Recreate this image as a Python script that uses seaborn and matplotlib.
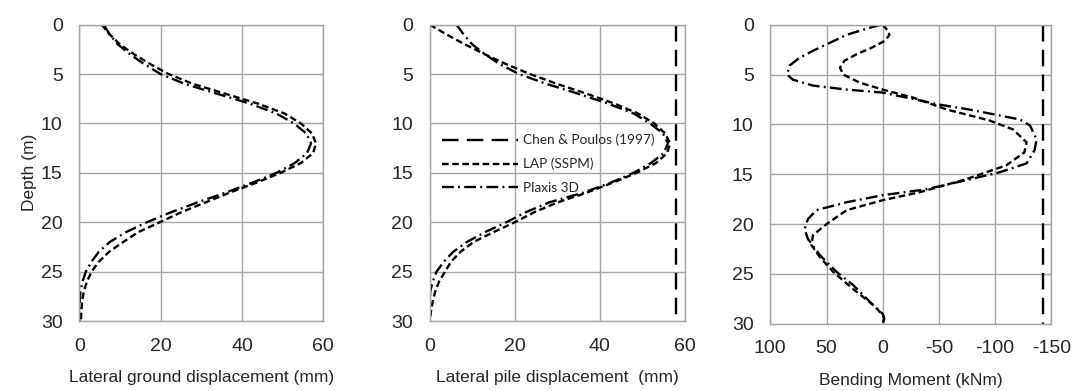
import matplotlib
matplotlib.use("Agg")
import matplotlib.pyplot as plt
import seaborn as sns

sns.set_style("white")
plt.rcParams['font.family'] = ['Liberation Sans', 'DejaVu Sans']
plt.rcParams['axes.unicode_minus'] = False

# depth (m) for the displacement curves
depth = list(range(31))

# lateral ground displacement (mm)
ground_lap = [5.5, 7.5, 10, 13.5, 17.5, 22, 28, 36, 44, 50.5, 54.5, 57.2, 58.2, 57.5, 54.5, 49.5,
              43.5, 37, 31, 25, 19.8, 14.5, 10.8, 7.3, 4.8, 3.0, 1.9, 1.1, 0.7, 0.5, 0.4]
ground_plaxis = [6, 7.5, 9.5, 12.5, 16, 20, 26, 34, 42, 48.5, 52.8, 55.8, 57, 56, 53, 48.5,
                 42.5, 36, 29, 22.5, 16.6, 11.5, 7.5, 4.8, 3, 1.6, 0.8, 0.3, 0.1, 0, 0]

# lateral pile displacement (mm)
pile_lap = [0, 4, 8.3, 13, 18, 23.6, 30, 37, 43.5, 49, 52.8, 55.3, 56.5, 55.8, 53.2, 48.6,
            43, 36.9, 30, 24.5, 20, 15, 10.3, 7.2, 5, 3.6, 2.2, 1.3, 0.7, 0.3, 0]
pile_plaxis = [6.3, 8, 10, 13, 16.5, 21, 27.5, 35, 42, 48, 51.8, 54.8, 56, 55, 52, 47.9,
               42.5, 36.1, 28, 22.5, 18, 13, 8.7, 5.5, 3.3, 1.6, 0.7, 0.1, 0, 0, 0]
chen_pile = 58

# bending moment (kNm)
moment_lap_depth = [0, 0.5, 1.0, 1.6, 2.3, 3.0, 3.6, 4.3, 5.0, 5.8, 6.5, 7.3, 8.5, 9.6, 10.5,
                    11.8, 12.8, 14.1, 15.5, 16.8, 17.6, 18.6, 20.0, 21.1, 22.1, 23.3, 24.8,
                    26.5, 28.1, 29.1, 29.5, 30]
moment_lap = [0, -4, -6, -2, 10, 24, 34, 38, 35, 20.5, 0, -27, -57, -95, -116,
              -128, -126, -110, -74, -33, 0, 32, 50, 62, 63.5, 56, 44,
              26.5, 8.7, 0, -1.3, 0]
moment_plaxis_depth = [0, 0.4, 1.0, 1.8, 2.6, 3.3, 4.1, 5.0, 5.5, 6.1, 6.5, 6.8, 7.3, 8.0, 8.5,
                       9.5, 10.1, 11.5, 12.6, 13.9, 14.8, 15.6, 16.5, 17.1, 17.8, 18.6, 19.5,
                       20.5, 21.5, 23.1, 24.8, 26.1, 28.1, 29.0, 29.5, 30]
moment_plaxis = [2, 14.6, 32, 47, 62, 74, 83, 85, 80, 62, 32, 0, -21, -50, -77,
                 -122, -131, -137, -135, -128, -104, -74, -39, 0, 32, 59, 66.5,
                 69.5, 66.5, 56, 41, 26.5, 8.7, 0, -1.3, 0]
chen_moment = -143

names = ['Chen & Poulos (1997)', 'LAP (SSPM)', 'Plaxis 3D']
ls_chen = (0, (7, 3.5))
ls_lap = (0, (2.8, 1.5))
ls_plaxis = (0, (5, 1.8, 0.8, 1.8))
lw = 1.7
grey = '#a6a6a6'

fig = plt.figure(figsize=(10.73, 3.91), dpi=100)
ax1 = fig.add_axes([0.0739, 0.179, 0.2274, 0.7578])
ax2 = fig.add_axes([0.4005, 0.179, 0.2379, 0.7578])
ax3 = fig.add_axes([0.7179, 0.172, 0.2619, 0.7645])

sns.lineplot(x=ground_lap, y=depth, orient='y', sort=False, estimator=None, ax=ax1,
             color='black', lw=lw, linestyle=ls_lap)
sns.lineplot(x=ground_plaxis, y=depth, orient='y', sort=False, estimator=None, ax=ax1,
             color='black', lw=lw, linestyle=ls_plaxis)

sns.lineplot(x=[chen_pile, chen_pile], y=[0, 30], orient='y', sort=False, estimator=None, ax=ax2,
             color='black', lw=lw, linestyle=ls_chen, label=names[0])
sns.lineplot(x=pile_lap, y=depth, orient='y', sort=False, estimator=None, ax=ax2,
             color='black', lw=lw, linestyle=ls_lap, label=names[1])
sns.lineplot(x=pile_plaxis, y=depth, orient='y', sort=False, estimator=None, ax=ax2,
             color='black', lw=lw, linestyle=ls_plaxis, label=names[2])

sns.lineplot(x=[chen_moment, chen_moment], y=[0, 30], orient='y', sort=False, estimator=None, ax=ax3,
             color='black', lw=lw, linestyle=ls_chen)
sns.lineplot(x=moment_lap, y=moment_lap_depth, orient='y', sort=False, estimator=None, ax=ax3,
             color='black', lw=lw, linestyle=ls_lap)
sns.lineplot(x=moment_plaxis, y=moment_plaxis_depth, orient='y', sort=False, estimator=None, ax=ax3,
             color='black', lw=lw, linestyle=ls_plaxis)

xlabels = ['Lateral ground displacement (mm)', 'Lateral pile displacement  (mm)',
           'Bending Moment (kNm)']
for ax, xl in zip([ax1, ax2, ax3], xlabels):
    ax.set_ylim(30, 0)
    ax.set_yticks(range(0, 31, 5))
    ax.grid(True, color=grey, lw=1)
    ax.set_axisbelow(True)
    for s in ax.spines.values():
        s.set_color(grey)
        s.set_linewidth(1)
    ax.tick_params(axis='both', length=0, labelsize=14)
    ax.tick_params(axis='x', pad=12)
    ax.tick_params(axis='y', pad=12)
    ax.set_xlabel(xl, fontsize=12.5, labelpad=11)
    ax.set_ylabel('')

ax1.set_xlim(0, 60)
ax1.set_xticks([0, 20, 40, 60])
ax2.set_xlim(0, 60)
ax2.set_xticks([0, 20, 40, 60])
ax3.set_xlim(100, -150)
ax3.set_xticks([100, 50, 0, -50, -100, -150])
ax1.set_ylabel('Depth (m)', fontsize=12.5, labelpad=3)

ax2.legend(loc='upper left', bbox_to_anchor=(0.047, 0.632), frameon=False, borderpad=0,
           borderaxespad=0, handlelength=5.6, handletextpad=0.35, labelspacing=0.85,
           prop={'family': 'Lato', 'size': 9.8})

fig.savefig('out.png', dpi=100)
